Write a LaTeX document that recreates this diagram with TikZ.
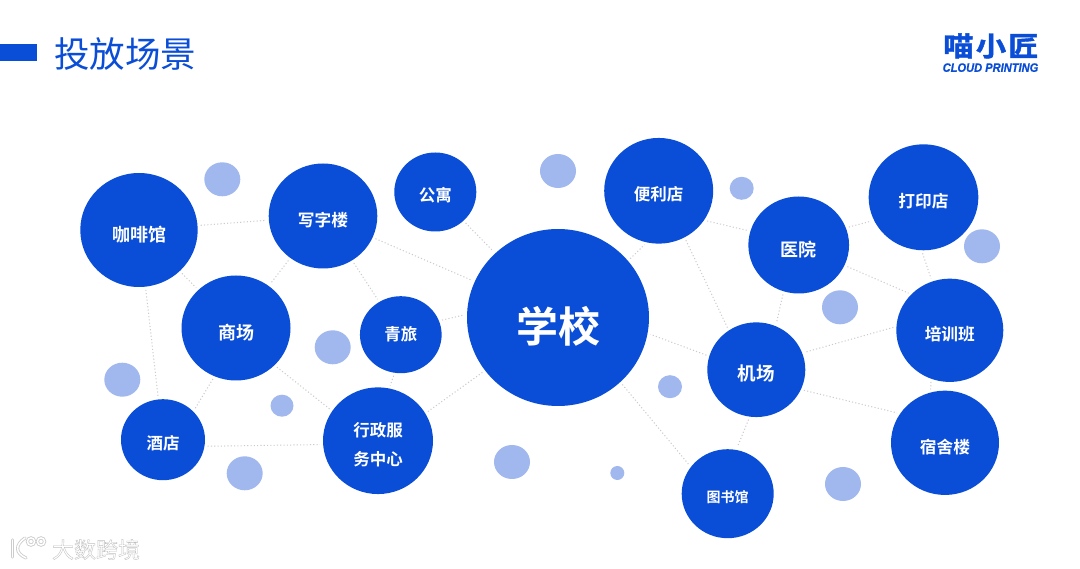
\documentclass[tikz,border=0pt]{standalone}
\usepackage{fontspec}
\usetikzlibrary{shapes.geometric}
\setmainfont{Noto Sans CJK SC}
\newfontfamily\boldcjk{Noto Sans CJK SC Bold}
\newfontfamily\wmfont[FakeBold=1.6]{Noto Sans CJK SC}
\newfontfamily\logofont[FakeBold=1.5]{Noto Sans CJK SC Bold}
\newfontfamily\latinlogo[FakeBold=0.6]{Liberation Sans Bold Italic}
\definecolor{mainblue}{HTML}{0A4DD6}
\definecolor{lightblue}{HTML}{A0B8ED}
\definecolor{linkgray}{HTML}{CBCBCB}
\newcommand{\lab}[3]{{\boldcjk\fontsize{#1}{29}\selectfont\raisebox{\dimexpr-#2pt-0.38em\relax}[0pt][0pt]{#3}}}
\tikzset{
  hub/.style={shape=ellipse,fill=mainblue,inner sep=0pt,text=white,align=center},
  dotc/.style={shape=ellipse,fill=lightblue,inner sep=0pt},
  link/.style={draw=linkgray,line width=1pt,dash pattern=on 1.1pt off 2.2pt,shorten <=3pt,shorten >=3pt},
}
\begin{document}
\begin{tikzpicture}[x=1pt,y=-1pt]
\useasboundingbox (0,0) rectangle (1080,569);
\fill[white] (0,0) rectangle (1080,569);
% header
\fill[mainblue] (0,44) rectangle (37,61);
\node[text=mainblue,font=\fontsize{35.5}{36}\selectfont,inner sep=0pt,anchor=center] (title) at (125,54) {投放场景};
\node[text=mainblue,inner sep=0pt] (logoa) at (991,46) {\logofont\fontsize{27}{27}\selectfont\scalebox{1.12}[1]{喵\hspace{2pt}小\hspace{2pt}匠}};
\node[text=mainblue,inner sep=0pt] (logob) at (990.5,67.6) {\latinlogo\fontsize{12.2}{13}\selectfont\scalebox{0.91}[1]{CLOUD PRINTING}};
% nodes
\node[hub,minimum width=117.4pt,minimum height=114pt] (cafe) at (139,230) {\lab{18}{4.7}{咖啡馆}};
\node[hub,minimum width=108.6pt,minimum height=105pt] (office) at (323,216) {\lab{16.7}{4}{写字楼}};
\node[hub,minimum width=82pt,minimum height=79pt] (apt) at (435.3,192) {\lab{16.5}{3.7}{公寓}};
\node[hub,minimum width=109pt,minimum height=105pt] (mall) at (236,328) {\lab{18}{4.3}{商场}};
\node[hub,minimum width=81.7pt,minimum height=77pt] (hostel) at (400.8,334.7) {\lab{16.5}{0}{青旅}};
\node[hub,minimum width=84pt,minimum height=81pt] (hotel) at (163,439.7) {\lab{16.5}{3.3}{酒店}};
\node[hub,minimum width=110pt,minimum height=106.7pt] (gov) at (378,440.7) {{\boldcjk\fontsize{16.5}{29}\selectfont\raisebox{-9pt}[0pt][0pt]{\begin{tabular}{@{}c@{}}行政服\\务中心\end{tabular}}}};
\node[hub,minimum width=182pt,minimum height=177pt] (school) at (558,317.5) {\lab{42}{9.5}{学校}};
\node[hub,minimum width=109pt,minimum height=105.7pt] (store) at (658.7,190.8) {\lab{16.5}{3.2}{便利店}};
\node[hub,minimum width=100.7pt,minimum height=97pt] (hospital) at (798.7,245) {\lab{18}{4.3}{医院}};
\node[hub,minimum width=109.7pt,minimum height=106pt] (print) at (923.5,197.3) {\lab{16.7}{3.7}{打印店}};
\node[hub,minimum width=107pt,minimum height=103.3pt] (train) at (949.8,330.3) {\lab{16.7}{3.4}{培训班}};
\node[hub,minimum width=98pt,minimum height=94.7pt] (airport) at (756.3,369.7) {\lab{18.5}{4}{机场}};
\node[hub,minimum width=108pt,minimum height=104.3pt] (dorm) at (945,442.8) {\lab{16.7}{3.9}{宿舍楼}};
\node[hub,minimum width=92pt,minimum height=89pt] (library) at (727.7,493.7) {\lab{14}{3.6}{图书馆}};
% decorative circles
\node[dotc,minimum width=36pt,minimum height=34pt] (d1) at (222.3,179.3) {};
\node[dotc,minimum width=36pt,minimum height=34pt] (d2) at (332.7,347.3) {};
\node[dotc,minimum width=36pt,minimum height=34pt] (d3) at (122.3,379.7) {};
\node[dotc,minimum width=23pt,minimum height=22pt] (d4) at (282,405.7) {};
\node[dotc,minimum width=36pt,minimum height=34pt] (d5) at (244.7,473.3) {};
\node[dotc,minimum width=24pt,minimum height=23pt] (d6) at (741.7,188.3) {};
\node[dotc,minimum width=36pt,minimum height=34pt] (d7) at (982,246.3) {};
\node[dotc,minimum width=36pt,minimum height=34pt] (d8) at (840,307.3) {};
\node[dotc,minimum width=24pt,minimum height=23pt] (d9) at (670,386.7) {};
\node[dotc,minimum width=14pt,minimum height=14pt] (d10) at (617.3,473) {};
\node[dotc,minimum width=36pt,minimum height=34pt] (d11) at (843,484) {};
\node[dotc,minimum width=36pt,minimum height=34pt] (d12) at (558,171) {};
\node[dotc,minimum width=36pt,minimum height=34pt] (d13) at (512,462) {};
% connectors
\draw[link] (cafe) -- (office);
\draw[link] (cafe) -- (hotel);
\draw[link] (cafe) -- (mall);
\draw[link] (office) -- (mall);
\draw[link] (office) -- (hostel);
\draw[link] (office) -- (school);
\draw[link] (apt) -- (school);
\draw[link] (hostel.20) -- (school.178);
\draw[link] (hostel.261) -- (gov.78);
\draw[link] (mall.246) -- (hotel.43);
\draw[link] (mall.316) -- (gov.147);
\draw[link] (hotel.351) -- (gov.184);
\draw[link] (gov.30) -- (school.216);
\draw[link] (school.39.5) -- (store.257);
\draw[link] (store.327) -- (hospital.164);
\draw[link] (store.299) -- (airport.125);
\draw[link] (hospital.20) -- (print.205);
\draw[link] (hospital.336) -- (train.137);
\draw[link] (hospital.252) -- (airport.66);
\draw[link] (print.268) -- (train.110);
\draw[link] (train.176) -- (airport.20);
\draw[link] (train.249) -- (dorm.106);
\draw[link] (airport.164) -- (school.350.5);
\draw[link] (airport.336) -- (dorm.147);
\draw[link] (airport.262) -- (library.79);
\draw[link] (school.314) -- (library.144);
% watermark
\foreach \w/\c in {3.2/black!20,1.5/white}{
  \draw[line width=\w pt,color=\c,line cap=round] (12.5,540) -- (12.5,557);
  \draw[line width=\w pt,color=\c,line cap=round] (25,538) .. controls (15,545) and (15,553) .. (26,558);
  \draw[line width=\w pt,color=\c] (31,541.5) circle[radius=3.6];
  \draw[line width=\w pt,color=\c] (41,541.5) circle[radius=3.6];
}
\node[inner sep=0pt] (wm) at (96,549.5) {\wmfont\fontsize{22}{22}\selectfont\color{white}\special{pdf:code 0.75 G}大数跨境};
\end{tikzpicture}
\end{document}
